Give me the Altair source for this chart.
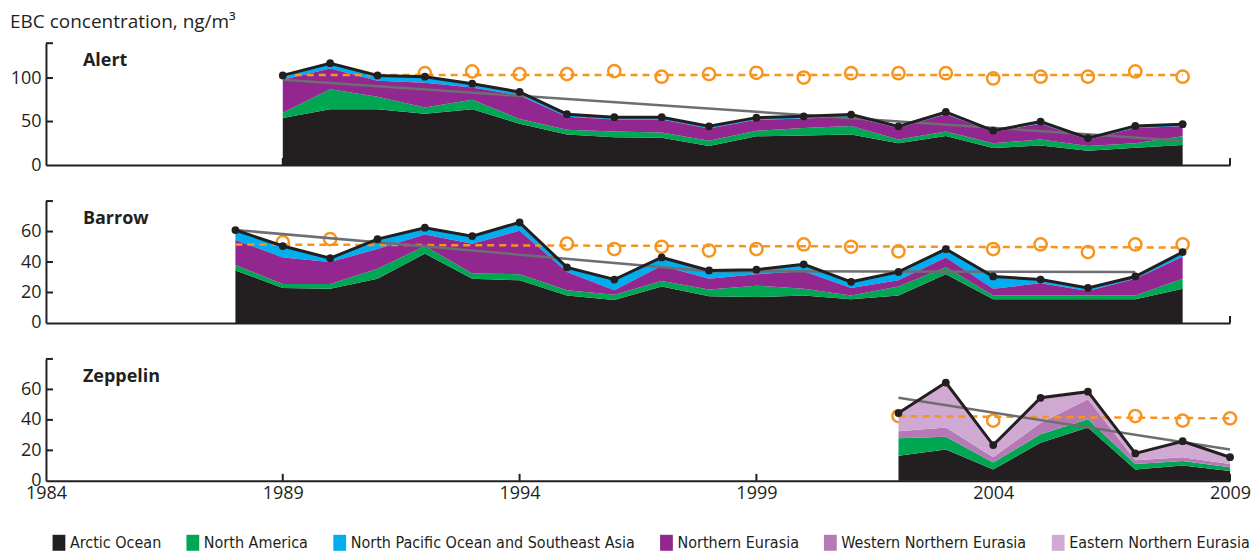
import altair as alt
import pandas as pd

# ---- source regions (legend order) and their colours ----
SOURCES = [
    "Arctic Ocean",
    "North America",
    "North Pacific Ocean and Southeast Asia",
    "Northern Eurasia",
    "Western Northern Eurasia",
    "Eastern Northern Eurasia",
]
COLORS = ["#231f20", "#00a651", "#00aeef", "#92278f", "#b57ab5", "#cfa9d1"]
# stacking position of each region, bottom to top
STACK_RANK = {
    "Arctic Ocean": 0,
    "North America": 1,
    "Northern Eurasia": 2,
    "Western Northern Eurasia": 3,
    "Eastern Northern Eurasia": 4,
    "North Pacific Ocean and Southeast Asia": 5,
}

INK = "#231f20"
ORANGE = "#f7941d"
TREND = "#6d6e71"
FONT = "Open Sans"
LEGEND_FONT = "'Liberation Sans Narrow', 'DejaVu Sans Condensed', sans-serif"

YEAR_TICKS = [1984, 1989, 1994, 1999, 2004, 2009]

# ---- Alert ----
alert_years = list(range(1989, 2009))
alert_arctic = [54, 64, 64, 59, 64, 47.5, 35, 32, 31.5, 22, 33, 34, 35, 25, 33.5, 19.5, 22.5, 16.5, 20, 23]
alert_namerica = [6, 23, 14.5, 7, 11, 5.5, 5.5, 6.5, 6, 6, 6.5, 8.5, 10, 4.5, 5, 5.5, 7, 5.5, 5, 10]
alert_npacific = [5, 6, 6, 7, 4.5, 4, 3, 2.5, 2.5, 2.5, 2.5, 2.5, 2.5, 2, 2.5, 1.5, 2.5, 2, 2.5, 2.5]
alert_neurasia = [38, 24, 18.5, 28.5, 14, 27, 15, 14, 15, 14, 12.5, 11, 10.5, 13, 20, 13, 18, 7, 17.5, 11.5]
alert_obs_years = list(range(1992, 2009))
alert_obs = [105.5, 107.5, 104.5, 104.5, 108, 101.5, 104.5, 106, 100.5, 105.5, 105.5, 105.5, 99.5,
             101.5, 101.5, 107.5, 101.5]
alert_ref_years = [1989, 2008]
alert_ref = [103.5, 103.5]
alert_trend_years = [1989, 2008]
alert_trend = [98, 28]
alert_trend_seg = ["a", "a"]

# ---- Barrow ----
barrow_years = list(range(1988, 2009))
barrow_arctic = [34.5, 23, 22.5, 29, 45.5, 29, 28, 18, 15, 24, 17.5, 17, 18, 15.5, 18, 32, 15.5, 15.5, 15.5, 15.5, 22.5]
barrow_namerica = [3.5, 2.5, 3, 6.5, 5, 3.5, 4, 3.5, 3.5, 3.5, 4.5, 7.5, 4.5, 2.5, 6, 4.5, 2.5, 2.5, 2.5, 2.5, 6.5]
barrow_npacific = [6.5, 7.5, 2.5, 6.5, 4.5, 5, 5.5, 3, 7, 5.5, 5.5, 3, 4.5, 4, 5.5, 5.5, 8, 2.5, 2, 1.5, 3]
barrow_neurasia = [16.5, 17.5, 14.5, 13, 7.5, 19.5, 28.5, 12, 3, 10, 7, 7.5, 11.5, 5, 4, 6.5, 4.5, 8, 3, 11, 14.5]
barrow_obs_years = [1989, 1990, 1995, 1996, 1997, 1998, 1999, 2000, 2001, 2002, 2004, 2005, 2006, 2007, 2008]
barrow_obs = [53, 55, 52, 48.5, 50, 47.5, 48.5, 51.5, 50, 47, 48.5, 51.5, 46.5, 51.5, 51.5]
barrow_ref_years = [1988, 2008]
barrow_ref = [51.5, 49.5]
barrow_trend_years = [1988, 1998, 2007]
barrow_trend = [61, 34, 33.5]
barrow_trend_seg = ["a", "a", "a"]

# ---- Zeppelin ----
zep_years = list(range(2002, 2010))
zep_arctic = [16.5, 20.5, 7.5, 25, 35, 7.5, 10, 6.5]
zep_namerica = [11.5, 8.5, 4.5, 5.5, 5.5, 3.5, 3, 2.5]
zep_weurasia = [4.5, 6, 3.5, 7.5, 13, 2.5, 2.5, 2]
zep_eeurasia = [12, 29.5, 8, 16.5, 5, 4.5, 10.5, 4.5]
zep_obs_years = [2002, 2004, 2007, 2008, 2009]
zep_obs = [42.5, 39.5, 42.5, 39.5, 41]
zep_ref_years = [2002, 2009]
zep_ref = [42.5, 41]
zep_trend_years = [2002, 2009]
zep_trend = [54.5, 20.5]
zep_trend_seg = ["a", "a"]

W, H = 1185, 122


def x_enc(show_labels):
    return alt.X(
        "year:Q",
        scale=alt.Scale(domain=[1984, 2009], nice=False, zero=False),
        axis=alt.Axis(
            values=YEAR_TICKS, format="d", title=None, labels=show_labels, ticks=False,
            grid=False, domainColor=INK, domainWidth=2, labelFont=FONT, labelFontSize=18,
            labelColor=INK, labelPadding=4, labelFlush=False,
        ),
    )


def y_enc(ymax, ticks, stacked=False):
    kw = dict(
        scale=alt.Scale(domain=[0, ymax], nice=False),
        axis=alt.Axis(
            values=ticks, title=None, ticks=False, grid=False, domainColor=INK, domainWidth=2,
            labelFont=FONT, labelFontSize=18, labelColor=INK, labelPadding=5,
        ),
    )
    if stacked:
        kw["stack"] = "zero"
    return alt.Y("value:Q", **kw)


legend = alt.Legend(
    title=None, orient="bottom", direction="horizontal",
    symbolType="M-0.8,-1H0.8V1H-0.8Z", symbolSize=256, symbolStrokeWidth=0, symbolOpacity=1,
    labelFont=LEGEND_FONT, labelFontSize=16, labelColor=INK, labelOffset=3, labelLimit=0,
    columnPadding=23, offset=27, padding=5,
)


def panel(name, years, parts, obs_years, obs, ref_years, ref, trend_years, trend, trend_seg,
          ymax, yticks, bottom, heading=None):
    rows = []
    for src, vals in parts:
        for yr, v in zip(years, vals):
            rows.append({"year": yr, "source": src, "value": v, "rank": STACK_RANK[src]})
    parts_df = pd.DataFrame(rows)

    X = x_enc(bottom)
    Y = y_enc(ymax, yticks)

    x_ticks = alt.Chart(pd.DataFrame({"year": YEAR_TICKS[1:]})).mark_rule(
        color=INK, strokeWidth=2
    ).encode(x=X, y=alt.value(H), y2=alt.value(H - 7))

    y_ticks = alt.Chart(pd.DataFrame({"value": [t for t in yticks if t > 0] + [ymax]})).mark_rule(
        color=INK, strokeWidth=2
    ).encode(y=Y, x=alt.value(0), x2=alt.value(7))

    circles = alt.Chart(pd.DataFrame({"year": obs_years, "value": obs})).mark_point(
        shape="circle", filled=False, color=ORANGE, strokeWidth=2.5, size=150, opacity=1
    ).encode(x=X, y=Y)

    areas = alt.Chart(parts_df).mark_area(interpolate="linear", opacity=1).encode(
        x=X,
        y=y_enc(ymax, yticks, stacked=True),
        color=alt.Color("source:N", scale=alt.Scale(domain=SOURCES, range=COLORS), legend=legend),
        order=alt.Order("rank:Q", sort="ascending"),
    )

    ref_line = alt.Chart(pd.DataFrame({"year": ref_years, "value": ref})).mark_line(
        color=ORANGE, strokeWidth=2.5, strokeDash=[7, 5]
    ).encode(x=X, y=Y)

    trend_line = alt.Chart(
        pd.DataFrame({"year": trend_years, "value": trend, "seg": trend_seg})
    ).mark_line(color=TREND, strokeWidth=2.5).encode(x=X, y=Y, detail="seg:N")

    totals = alt.Chart(parts_df).transform_aggregate(value="sum(value)", groupby=["year"])
    total_line = totals.mark_line(color=INK, strokeWidth=3).encode(x=X, y=Y)
    total_dots = totals.mark_circle(color=INK, size=60, opacity=1).encode(x=X, y=Y)

    label = alt.Chart(pd.DataFrame({"label": [name]})).mark_text(
        align="left", baseline="alphabetic", font=FONT, fontSize=18, fontWeight="bold", color=INK
    ).encode(x=alt.value(37), y=alt.value(23), text="label:N")

    layers = [x_ticks, y_ticks, circles, areas, ref_line, trend_line, total_line, total_dots, label]
    if heading:
        layers.append(
            alt.Chart(pd.DataFrame({"label": [heading]})).mark_text(
                align="left", baseline="alphabetic", font=FONT, fontSize=19, color=INK
            ).encode(x=alt.value(-36), y=alt.value(-15), text="label:N")
        )
    return alt.layer(*layers).properties(width=W, height=H)


alert = panel(
    "Alert", alert_years,
    [("Arctic Ocean", alert_arctic), ("North America", alert_namerica),
     ("North Pacific Ocean and Southeast Asia", alert_npacific), ("Northern Eurasia", alert_neurasia)],
    alert_obs_years, alert_obs, alert_ref_years, alert_ref,
    alert_trend_years, alert_trend, alert_trend_seg,
    140, [0, 50, 100], False, heading="EBC concentration, ng/m³",
)
barrow = panel(
    "Barrow", barrow_years,
    [("Arctic Ocean", barrow_arctic), ("North America", barrow_namerica),
     ("North Pacific Ocean and Southeast Asia", barrow_npacific), ("Northern Eurasia", barrow_neurasia)],
    barrow_obs_years, barrow_obs, barrow_ref_years, barrow_ref,
    barrow_trend_years, barrow_trend, barrow_trend_seg,
    80, [0, 20, 40, 60], False,
)
zeppelin = panel(
    "Zeppelin", zep_years,
    [("Arctic Ocean", zep_arctic), ("North America", zep_namerica),
     ("Western Northern Eurasia", zep_weurasia), ("Eastern Northern Eurasia", zep_eeurasia)],
    zep_obs_years, zep_obs, zep_ref_years, zep_ref,
    zep_trend_years, zep_trend, zep_trend_seg,
    80, [0, 20, 40, 60], True,
)

chart = (
    alt.vconcat(alert, barrow, zeppelin, spacing=26)
    .properties(padding={"left": 10, "top": 13, "right": 3, "bottom": 2})
    .configure_view(stroke=None)
)

chart.save("out.html", embed_options={"renderer": "svg", "actions": False})
